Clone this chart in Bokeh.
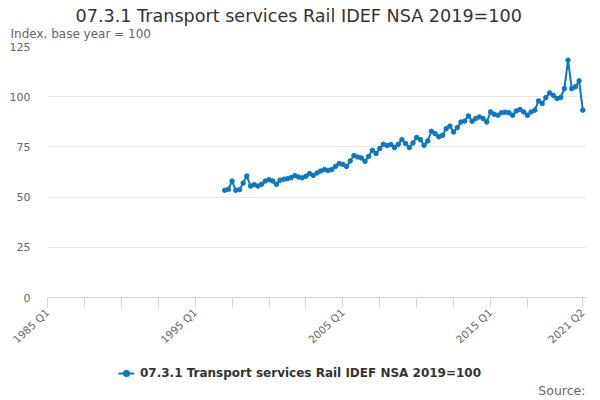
import math
from bokeh.plotting import figure
from bokeh.layouts import column
from bokeh.models import Range1d, FixedTicker, Legend, LegendItem, Title, Label
from bokeh.embed import file_html
from bokeh.resources import INLINE

title_text = "07.3.1 Transport services Rail IDEF NSA 2019=100"
subtitle_text = "Index, base year = 100"
source_text = "Source:"
series_name = "07.3.1 Transport services Rail IDEF NSA 2019=100"

# category axis: 1985 Q1 .. 2021 Q2
axis_quarters = [f"{y} Q{q}" for y in range(1985, 2022) for q in range(1, 5)][:146]
first_quarter = "1997 Q1"

values = [
    53.4, 53.9, 58.0, 53.4, 53.7, 57.0, 60.5, 55.5, 56.2, 55.5,
    56.4, 58.0, 58.7, 58.0, 56.4, 58.4, 58.9, 59.2, 59.7, 60.7,
    60.0, 59.6, 60.4, 61.7, 60.8, 62.0, 63.0, 63.7, 63.3, 63.7,
    65.3, 66.7, 66.3, 65.3, 68.0, 70.7, 70.0, 69.5, 67.8, 70.3,
    73.3, 71.7, 74.2, 76.3, 75.7,
    76.2, 74.7, 76.3, 78.6, 76.7, 74.7, 77.0, 79.7, 78.6, 75.8,
    78.0, 82.8, 81.6, 80.0, 80.8, 84.1, 85.4, 82.4, 84.6, 87.4,
    87.9, 90.4, 87.8, 89.1, 89.9, 89.1, 87.4, 92.4, 91.3, 90.8,
    92.0, 92.3, 92.0, 90.8, 92.9, 93.6, 92.4, 90.8, 92.4, 93.3,
    97.9, 96.6, 99.6, 101.9, 100.7, 99.1, 99.6, 104.0, 118.2, 104.0,
    104.9, 107.9, 93.3,
]

start = axis_quarters.index(first_quarter)
data_quarters = axis_quarters[start:start + len(values)]
x = [axis_quarters.index(q) for q in data_quarters]

labelled_quarters = ["1985 Q1", "1995 Q1", "2005 Q1", "2015 Q1", "2021 Q2"]
tick_quarters = axis_quarters[0:140:10] + ["2021 Q2"]
y_ticks = [0, 25, 50, 75, 100, 125]

line_color = "#0b78c1"
font = "DejaVu Sans"

# ---------------- main chart ----------------
p = figure(width=600, height=363, output_backend="svg", toolbar_location=None,
           title=None,
           x_range=Range1d(0, 146), y_range=Range1d(0, 125),
           min_border_left=47, min_border_right=14, min_border_top=46,
           min_border_bottom=66)
p.outline_line_color = None
p.background_fill_color = "white"
p.border_fill_color = "white"

r_line = p.line(x, values, line_color=line_color, line_width=2)
r_pts = p.scatter(x, values, size=4.5, color=line_color)

# x axis
tick_pos = [axis_quarters.index(q) for q in tick_quarters]
p.xaxis.ticker = FixedTicker(ticks=tick_pos)
p.xaxis.major_label_overrides = {
    axis_quarters.index(q): (q if q in labelled_quarters else "") for q in tick_quarters
}
p.xaxis.major_label_orientation = math.radians(43)
p.xaxis.axis_line_color = "#ccd6eb"
p.xaxis.major_tick_line_color = "#ccd6eb"
p.xaxis.major_tick_in = 0
p.xaxis.major_tick_out = 10
p.xaxis.minor_tick_line_color = None
p.xaxis.major_label_text_font = font
p.xaxis.major_label_text_font_size = "10.5px"
p.xaxis.major_label_text_color = "#666666"
p.xaxis.major_label_standoff = 3
p.xgrid.grid_line_color = None

# y axis
p.yaxis.ticker = FixedTicker(ticks=y_ticks)
p.yaxis.axis_line_color = None
p.yaxis.major_tick_line_color = None
p.yaxis.minor_tick_line_color = None
p.yaxis.major_tick_out = 0
p.yaxis.major_tick_in = 0
p.yaxis.major_label_standoff = 17
p.yaxis.major_label_text_font = font
p.yaxis.major_label_text_font_size = "11px"
p.yaxis.major_label_text_color = "#666666"
p.ygrid.grid_line_color = "#e6e6e6"
p.ygrid.grid_line_width = 1

# titles (first added is closest to the plot area)
p.add_layout(Title(text=subtitle_text, align="left", offset=-37, standoff=12,
                   text_font=font, text_font_size="12px", text_font_style="normal",
                   text_color="#666666"), "above")
p.add_layout(Title(text=title_text, align="left", offset=28, standoff=-15,
                   text_font=font, text_font_size="17.6px", text_font_style="normal",
                   text_color="#333333"), "above")

# ---------------- legend + source strip ----------------
# same series drawn again, entirely outside this strip's visible range, to feed the legend
p2 = figure(width=600, height=37, output_backend="svg", toolbar_location=None,
            title=None, x_axis_type=None, y_axis_type=None,
            x_range=Range1d(0, 146), y_range=Range1d(0, 37),
            min_border_left=47, min_border_right=14, min_border_top=0,
            min_border_bottom=0)
p2.outline_line_color = None
p2.background_fill_color = "white"
p2.border_fill_color = "white"
p2.xgrid.grid_line_color = None
p2.ygrid.grid_line_color = None

lg_line = p2.line(x, values, line_color=line_color, line_width=2)
lg_pts = p2.scatter(x, values, size=4.5, color=line_color)

legend = Legend(items=[LegendItem(label=series_name, renderers=[lg_line, lg_pts])],
                location=(71, 19), orientation="horizontal",
                glyph_width=16, glyph_height=16, label_height=16, label_standoff=6,
                padding=0, margin=0, spacing=0, border_line_color=None,
                background_fill_alpha=0,
                label_text_font=font, label_text_font_size="12px",
                label_text_font_style="bold", label_text_color="#333333")
p2.add_layout(legend)

p2.add_layout(Label(x=538, y=10, x_units="screen", y_units="screen", text=source_text,
                    text_align="right", text_baseline="middle", text_font=font,
                    text_font_size="12.5px", text_color="#666666"))

layout = column(p, p2, spacing=0)
open("out.html", "w").write(file_html(layout, INLINE))
